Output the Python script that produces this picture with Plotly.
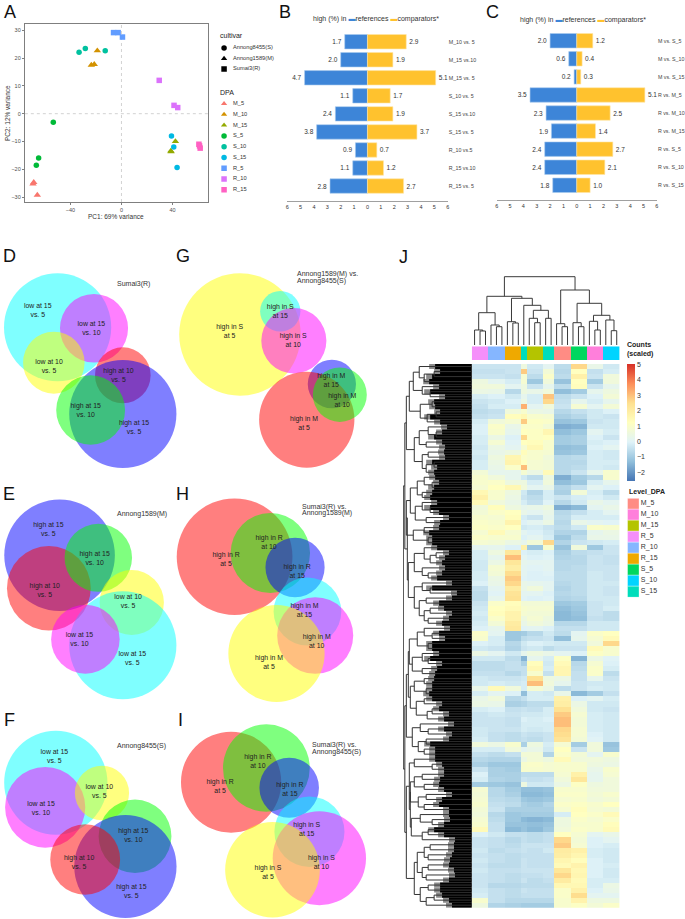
import plotly.graph_objects as go

W, H = 685, 919
FONT = "Liberation Sans"

# ---------- Panel A data ----------
dpa_levels = ["M_5", "M_10", "M_15", "S_5", "S_10", "S_15", "R_5", "R_10", "R_15"]
dpa_colors = ["#F8766D", "#D39200", "#93AA00", "#00BA38", "#00C19F", "#00B9E3", "#619CFF", "#DB72FB", "#FF61C3"]
dpa_symbols = ["triangle-up"] * 3 + ["circle"] * 3 + ["square"] * 3
pc1 = [
    [-68.7, -69.3, -65.9], [-18.9, -23.6, -21.3], [42.3, 38.7, 38.9],
    [-53.4, -64.9, -66.7], [-33.2, -28.3, -12.7], [39.2, 41.0, 43.6],
    [-6.2, -2.6, 0.8], [29.6, 41.2, 44.1], [60.7, 61.2, 61.7],
]
pc2 = [
    [-24.7, -25.3, -29.3], [22.7, 17.5, 17.8], [-10.0, -13.4, -13.7],
    [-3.1, -16.0, -18.6], [22.1, 23.5, 22.7], [-8.0, -12.0, -19.4],
    [29.2, 29.2, 27.6], [12.0, 3.0, 2.2], [-11.0, -11.6, -12.4],
]
cultivars = ["Annong8455(S)", "Annong1589(M)", "Sumai3(R)"]
cultivar_symbols = ["circle", "triangle-up", "square"]

# ---------- Panels B, C data ----------
b_labels = ["M_10 vs. 5", "M_15 vs.10", "M_15 vs. 5", "S_10 vs. 5", "S_15 vs.10", "S_15 vs. 5", "R_10 vs.5", "R_15 vs.10", "R_15 vs. 5"]
b_ref = [1.7, 2.0, 4.7, 1.1, 2.4, 3.8, 0.9, 1.1, 2.8]
b_cmp = [2.9, 1.9, 5.1, 1.7, 1.9, 3.7, 0.7, 1.2, 2.7]
c_labels = ["M vs. S_5", "M vs. S_10", "M vs. S_15", "R vs. M_5", "R vs. M_10", "R vs. M_15", "R vs. S_5", "R vs. S_10", "R vs. S_15"]
c_ref = [2.0, 0.6, 0.2, 3.5, 2.3, 1.9, 2.4, 2.4, 1.8]
c_cmp = [1.2, 0.4, 0.3, 5.1, 2.5, 1.4, 2.7, 2.1, 1.0]
bar_ticks = [-6, -5, -4, -3, -2, -1, 0, 1, 2, 3, 4, 5, 6]

# ---------- Venn data: circles (centre, radius), in drawing order ----------
venn_rgba = {"cyan": "rgba(0,255,255,.5)", "magenta": "rgba(255,0,255,.5)", "yellow": "rgba(255,255,0,.5)",
             "red": "rgba(255,0,0,.5)", "green": "rgba(0,255,0,.5)", "blue": "rgba(0,0,255,.5)"}

venn_D_col = ["cyan", "magenta", "yellow", "red", "blue", "green"]
venn_D_cx = [56.0, 92.7, 52.2, 121.7, 121.7, 89.3]
venn_D_cy = [327.3, 328.3, 362.7, 375.3, 414.0, 410.0]
venn_D_r = [54.0, 34.3, 31.0, 28.0, 54.0, 34.7]
venn_D_text = ["low at 15<br>vs. 5", "low at 15<br>vs. 10", "low at 10<br>vs. 5", "high at 10<br>vs. 5", "high at 15<br>vs. 10", "high at 15<br>vs. 5"]
venn_D_tx = [36.0, 90.0, 47.3, 117.3, 84.3, 133.0]
venn_D_ty = [311.0, 328.7, 367.0, 375.7, 410.3, 427.7]

venn_G_col = ["yellow", "cyan", "magenta", "blue", "red", "green"]
venn_G_cx = [239.7, 280.3, 294.0, 332.3, 307.0, 340.3]
venn_G_cy = [334.5, 311.3, 340.7, 384.0, 419.7, 394.7]
venn_G_r = [61.2, 20.3, 32.8, 24.3, 48.0, 27.2]
venn_G_text = ["high in S<br>at 5", "high in S<br>at 15", "high in S<br>at 10", "high in M<br>at 15", "high in M<br>at 5", "high in M<br>at 10"]
venn_G_tx = [229.3, 280.3, 293.3, 331.7, 304.3, 342.7]
venn_G_ty = [331.3, 311.3, 340.3, 381.0, 423.7, 400.3]

venn_E_col = ["blue", "red", "green", "yellow", "cyan", "magenta"]
venn_E_cx = [58.0, 47.2, 97.0, 130.7, 121.7, 84.0]
venn_E_cy = [555.2, 588.2, 557.8, 602.5, 645.3, 639.2]
venn_E_r = [55.7, 42.2, 34.0, 32.4, 54.0, 34.5]
venn_E_text = ["high at 15<br>vs. 5", "high at 10<br>vs. 5", "high at 15<br>vs. 10", "low at 10<br>vs. 5", "low at 15<br>vs. 5", "low at 15<br>vs. 10"]
venn_E_tx = [46.7, 43.0, 93.3, 127.0, 131.3, 78.0]
venn_E_ty = [529.7, 590.3, 558.7, 601.3, 658.7, 639.7]

venn_H_col = ["red", "green", "blue", "cyan", "magenta", "yellow"]
venn_H_cx = [234.3, 270.3, 295.2, 307.7, 315.5, 276.5]
venn_H_cy = [556.7, 553.0, 567.5, 611.5, 635.5, 653.5]
venn_H_r = [58.3, 40.0, 29.8, 34.1, 38.3, 48.5]
venn_H_text = ["high in R<br>at 5", "high in R<br>at 10", "high in R<br>at 15", "high in M<br>at 15", "high in M<br>at 10", "high in M<br>at 5"]
venn_H_tx = [225.7, 269.0, 297.3, 304.7, 317.0, 269.0]
venn_H_ty = [559.3, 543.0, 572.0, 611.0, 642.0, 663.0]

venn_F_col = ["cyan", "magenta", "yellow", "green", "blue", "red"]
venn_F_cx = [54.2, 43.5, 100.7, 134.0, 124.3, 83.8]
venn_F_cy = [782.7, 807.3, 793.0, 836.3, 866.5, 859.5]
venn_F_r = [52.0, 40.4, 27.3, 36.7, 51.5, 35.2]
venn_F_text = ["low at 15<br>vs. 5", "low at 15<br>vs. 10", "low at 10<br>vs. 5", "high at 15<br>vs. 10", "high at 15<br>vs. 5", "high at 10<br>vs. 5"]
venn_F_tx = [52.7, 39.3, 98.0, 132.3, 130.3, 77.7]
venn_F_ty = [756.7, 809.0, 792.0, 835.3, 891.3, 863.0]

venn_I_col = ["red", "green", "blue", "cyan", "magenta", "yellow"]
venn_I_cx = [230.8, 266.3, 289.3, 309.7, 319.7, 272.5]
venn_I_cy = [782.2, 768.0, 787.7, 831.7, 858.2, 869.8]
venn_I_r = [50.5, 43.7, 30.0, 35.3, 47.0, 47.7]
venn_I_text = ["high in R<br>at 5", "high in R<br>at 10", "high in R<br>at 15", "high in S<br>at 15", "high in S<br>at 10", "high in S<br>at 5"]
venn_I_tx = [219.7, 257.7, 290.0, 307.0, 321.7, 268.0]
venn_I_ty = [786.3, 762.0, 790.0, 829.3, 863.0, 873.0]

venn_panels = [
    (0, 180, 232, 470, venn_D_col, venn_D_cx, venn_D_cy, venn_D_r, venn_D_text, venn_D_tx, venn_D_ty),
    (174, 370, 232, 470, venn_G_col, venn_G_cx, venn_G_cy, venn_G_r, venn_G_text, venn_G_tx, venn_G_ty),
    (0, 180, 470, 702, venn_E_col, venn_E_cx, venn_E_cy, venn_E_r, venn_E_text, venn_E_tx, venn_E_ty),
    (174, 370, 470, 705, venn_H_col, venn_H_cx, venn_H_cy, venn_H_r, venn_H_text, venn_H_tx, venn_H_ty),
    (0, 180, 705, 919, venn_F_col, venn_F_cx, venn_F_cy, venn_F_r, venn_F_text, venn_F_tx, venn_F_ty),
    (174, 370, 705, 919, venn_I_col, venn_I_cx, venn_I_cy, venn_I_r, venn_I_text, venn_I_tx, venn_I_ty),
]

# ---------- Panel J data ----------
level_names = ["M_5", "M_10", "M_15", "R_5", "R_10", "R_15", "S_5", "S_10", "S_15"]
level_colors = ["#FF8C84", "#FF7FDB", "#B4C400", "#F58FFA", "#85B6FF", "#EFA900", "#00D75F", "#00D4FF", "#00DDBB"]
col_levels = ["R_5"] * 3 + ["R_10"] * 3 + ["R_15"] * 3 + ["S_15"] + ["M_15"] * 3 + ["S_15"] * 2 + ["M_5"] * 3 + ["S_5"] * 3 + ["M_10"] * 3 + ["S_10"] * 3
col_block = [0, 0, 0, 1, 1, 1, 2, 2, 2, 3, 4, 4, 4, 5, 5, 6, 6, 6, 7, 7, 7, 8, 8, 8, 9, 9, 9]

heat_top = [
    [-.4, -.4, -.4, .5, -.3, .1, -.6, 2.6, .3, -.3],
    [-.5, -.5, -.4, 2.8, -.4, .7, -.7, 1.2, -.5, -.2],
    [-.4, -.4, -.5, .8, -.6, 1, -.6, 1.8, -.4, .6],
    [.5, .1, -.2, .8, -1.1, .6, -1.2, 1.2, -1, .6],
    [.6, .6, .1, .5, -.4, .2, -.6, 1.3, -.4, .2],
    [.4, .3, -.7, .5, .3, .6, -1.3, -1, .2, .5],
    [-.2, -.1, -.3, .2, -.2, 2.9, -.6, -.4, -.1, .7],
    [-.4, -.3, -.1, .4, -.2, 2.6, -.5, .2, -.2, .2],
    [-.5, -.2, -.2, 3.2, .1, .6, -.4, .8, .1, .7],
    [-.6, -.5, .6, .9, .4, .3, -.7, -.5, -.3, -.1],
    [-.5, -.4, 1.3, 1.5, .9, .8, -.9, -.7, -.3, -.4],
    [-.2, .6, .8, 2.8, 1.1, 1, -1.2, -1.1, -.4, -.3],
    [-.1, 1, .3, 1, 1, .7, -1.6, -1.5, -.3, -.3],
    [-.1, .9, .2, 1.2, 1.1, 1.6, -1.3, -1.1, .1, -.2],
    [-.2, .4, -.1, 2.6, 1.1, 1.2, -1, -.9, -.1, -.4],
    [-.2, .8, 0, 1.2, 1.3, .9, -1, -.9, -.2, -.1],
    [-.3, .4, .1, .8, 1.5, .9, -1.3, -1.2, -.1, .1],
    [-.2, .3, .5, 1.3, .9, .8, -1.2, -1.1, -.2, -.3],
    [-.3, .5, 1.6, 1, .9, .6, -.7, -.6, -.2, -.3],
    [-.2, .4, 1.7, 1.2, .8, .7, -.7, -.7, -.2, -.2],
    [-.2, .3, 1, 3, .8, .7, -.7, -.6, -.2, -.3],
    [.7, .2, .2, .8, .4, 1.4, -.7, -.4, .2, .9],
    [.9, .6, .2, -.3, -.6, .5, -1.6, -1, -.7, .9],
    [.9, 1, .5, .5, -.2, .6, -1.3, -1.1, -.2, .2],
    [.8, 1.2, 1.5, .6, .1, .3, -.8, -.5, .1, -.1],
    [1.5, .9, .5, -.3, -.8, -.2, -.9, .7, -.2, -.6],
    [1.8, .9, .4, -.4, -.6, -.2, -.4, -.2, -.1, -.3],
    [1.4, .6, .3, -.2, -.5, 0, -.7, -.3, .3, .1],
    [.6, 1.3, .5, .2, .3, .5, -1.6, -1.4, .1, .3],
    [.7, 1, 1.2, .3, .1, .3, -.7, -.5, -.2, .1],
    [.9, .8, 1.3, -.2, -.4, .2, -.6, -.2, -.2, -.2],
    [1, .9, 1.7, -.1, .1, .4, -.7, .3, .1, 0],
    [1.1, 1, 1.2, -.3, -.2, -.4, -.6, -.3, 1, .9],
    [.8, 1.4, .8, .1, -.1, -.3, -.8, -.8, .2, .4],
    [1, .9, .9, -.1, .1, -.2, -1.1, -.6, .3, .3],
    [.8, .7, .4, .2, .7, 2.6, -.8, -.4, -.3, -.2],
]
heat_mid = [
    [.1, .2, -.1, 1.8, -1.1, .9, -1.2, .6, -1.1, -.4],
    [-.2, .5, 2.2, -.1, -.2, -.1, -.9, -.6, -.5, -.4],
    [-.2, .2, 3, .1, -.1, 0, -.8, -.7, -.4, -.5],
    [-.3, .4, 2.2, .2, .1, .1, -.7, -.7, -.4, -.5],
    [-.3, .8, 1.9, .1, 0, .1, -.7, -.6, -.4, -.4],
    [-.2, .7, 2.5, .1, -.1, 0, -.6, -.6, -.3, -.4],
    [-.2, .4, 2.8, 0, -.1, -.1, -.6, -.6, -.3, -.4],
    [-.1, .3, 2.6, .3, .2, .1, -.7, -.6, -.3, -.3],
    [-.5, .1, 2, .3, .6, .1, -.8, -.6, -.3, -.4],
    [-.6, 0, 2.3, .1, .1, -.1, -.7, -.6, -.3, -.4],
    [-.6, .2, 2.4, 0, -.1, 0, -.8, -.7, -.3, -.3],
    [-.4, 1, 1.3, .7, .7, .7, -1.1, -1, -.4, -.3],
    [-.3, 1.2, 1.4, .9, .8, .8, -1.3, -1.1, -.4, -.2],
    [-.2, 1.3, 1.7, .8, .7, .7, -1.4, -1.2, -.4, -.6],
    [-.3, 1, 1.7, .5, .8, .5, -1.4, -1.3, -.5, -.6],
    [-.2, .7, 2, .3, .6, .4, -.7, -.7, -.3, -.3],
    [-.1, .2, 2.1, 0, .1, -.1, -.5, -.5, -.3, -.3],
    [1, .1, -1.1, -1, -.7, -.3, -.6, .1, 1, 1.2],
    [.9, -.2, -1.1, -.6, -.5, -.4, -1.3, .2, .8, 1.4],
    [-.1, -.2, -.7, -.3, -.1, -.2, -.3, -.3, .6, 2.6],
    [-.3, -.4, -.8, -.4, -.3, -.6, -.4, -.4, 1.4, .9],
    [.4, .1, -.3, .2, .5, .3, .1, -.1, 1.1, .9],
    [-.3, -.3, -.6, -1.5, .2, -.2, 1.1, -1.5, .4, 0],
    [-.6, -.6, -.5, -.9, 1.3, -.3, 1.4, -.7, .8, -.1],
    [-.6, -.6, -.5, -.5, 1.5, -.2, 1.6, -.6, 1, -.2],
    [-.5, -.5, -.7, -.5, .9, -.5, 1.6, -.5, 1, -.6],
    [-.3, -.4, -.4, -.3, 2.4, .5, .4, -.5, .2, -.4],
    [-.3, -.2, -.3, -.2, 3, .6, .2, -.4, -.3, -.3],
    [.3, 1.4, .6, -.2, .8, .4, -.6, -.4, -.2, -.3],
    [-.2, .1, -.1, -1.3, -.2, -.3, .3, -1.4, -1, -.5],
    [.3, .6, -.7, -.5, -.2, -.2, 1.8, -.1, .1, -.2],
    [.4, .3, -.9, -.8, -.6, -.6, 1.9, .4, -.3, -.3],
    [-.2, -.1, -.5, -.4, -.5, -.2, 2.4, .6, -.3, -.4],
    [-.4, -.3, -.4, -.3, -.3, -.2, 2.8, .8, -.2, -.3],
    [-.4, -.4, -.5, -.1, -.2, -.1, 3, .7, -.2, -.3],
    [-.4, -.4, -.5, -.2, -.2, -.2, 3, .7, -.2, -.3],
    [-.3, -.4, -.4, -.2, -.3, -.2, 2.6, .8, -.2, -.3],
]
heat_bot = [
    [-.3, -.5, -.6, -.4, -.5, -.4, 2.5, .8, -.1, -.3],
    [-.2, -.5, -.6, -.5, -.6, -.4, 2.3, .7, 0, -.3],
    [.6, .4, .9, -.9, .5, -.2, .8, -1, .6, -1.2],
    [-.2, -.2, .6, .1, .3, -.3, 1.2, -.4, .6, -1.1],
    [-.5, -.6, -.5, .7, .7, -.8, 1, .7, .1, .9],
    [-.7, -.8, -.8, .4, .7, .5, 1.4, .6, .6, .5],
    [-.9, -1.1, -1.1, .9, 1, .8, .9, .9, .5, .4],
    [-.4, -.9, -1, .9, .9, .8, .9, .9, .3, .9],
    [-.1, -.9, -.9, -.6, -.6, -.6, .8, 1.8, .2, .8],
    [-.2, -.8, -.9, -.4, -.5, -.4, .6, 2.2, .2, .6],
    [-1, -1.1, -1.2, .5, -.3, -.3, .4, 1.1, .5, .6],
    [.8, -.7, -1, -1.3, -1.3, -1.2, .9, .9, .6, .6],
    [.7, -.7, -.9, -1.4, -1.4, -1.3, 1, 1, .7, .9],
    [.8, -.6, -.7, -1.1, -1.2, -1.1, .8, .9, .6, .7],
    [.9, -.5, -.6, -.9, -1, -.8, 1, 1.1, .9, 1.2],
    [.7, -.4, -.9, -.9, -.9, -.9, .8, 1.3, .8, .7],
    [.6, -.7, -1.1, -1, -1, -1, -.2, 1.2, 1, 1.4],
    [.8, -.6, -1.1, -1.4, -1.5, -1.4, .5, 1, .8, 1],
    [.9, -.5, -1.2, -1.2, -1.3, -1.2, .5, .9, .9, 1.3],
    [1.4, -.5, -1.4, -1.2, -1.4, -1.1, .6, 1, .9, 1.4],
    [-.1, -.3, -.5, -.5, -.6, -.5, 1.2, .8, .1, .3],
    [-.4, -.5, -.7, -.5, -.6, -.5, 2.6, .7, -.1, .1],
    [-.4, -.5, -.6, -.4, -.4, -.4, 2.8, .8, -.1, -.2],
    [-.3, -.6, -.5, -.4, -.5, -.3, 2, 1.8, -.2, -.3],
    [-.4, -.5, -.6, -.5, -.5, -.5, 1.9, 1.6, -.2, -.3],
    [-.3, -.5, -.6, -.4, -.5, -.5, 1.6, 1.3, -.1, -.3],
    [-.4, -.6, -.6, -.4, -.5, -.5, 1.4, 1.7, -.1, -.2],
    [-.3, -.5, -.5, -.4, -.4, -.4, 2.2, 1.5, -.1, -.3],
    [-.4, -.5, -.6, -.5, -.5, -.4, 2.6, 1.6, -.1, -.3],
    [-.4, -.5, -.6, -.4, -.6, -.5, 2, 1.4, -.2, -.2],
    [-.4, -.7, -.7, -.6, -.6, -.6, 1.5, 1.5, -.2, .4],
    [-.3, -.5, -.6, -.4, -.5, -.5, 1, 1.8, -.1, .3],
    [-.2, -.5, -.6, -.5, -.5, -.5, 1, 2.5, .1, .1],
    [.9, -.5, -.7, -.7, -.7, -.7, .9, 1.7, .5, .5],
    [.5, -.8, -.9, -1, -1, -1, .9, 1.1, .7, 1],
]

# column tree: (height, left, right); leaves are column indices
col_tree = (68.3,
            (48.7,
             (32.3, (15, 0, (14, 1, 2)), (20, 3, (18.3, 4, 5))),
             (46.7, (23.3, 6, (22, 7, 8)),
              (39.7, 9, (34.7, (26.7, 10, (22.3, 11, 12)), (26.7, 13, 14))))),
            (55,
             (21.3, 15, (18.3, 16, 17)),
             (41.7, (22.3, 18, (18.3, 19, 20)),
              (29.7, (23.7, 21, (15, 22, 23)), (25, 24, (14.3, 25, 26))))))

# row tree: leaves are row indices
row_C1 = (59, (53, 0, (48, (38, 1, 2), 3)), (50, 4, (42, 5, 6)))
row_C2 = (52, (40, 7, 8), (45, (36, 9, 10), 11))
row_C3 = (53, (44, 12, (36, 13, 14)), (46, 15, 16))
row_C4 = (50, (44, 17, 18), (46, (38, 19, 20), 21))
row_C5 = (55, (48, 22, (40, 23, 24)), (50, 25, 26))
row_C6 = (57, (50, 27, (42, 28, 29)), (46, 30, 31))
row_C7 = (59, (48, 32, 33), (44, 34, 35))
row_C8 = (58, (48, 36, (42, (36, 37, 38), 39)), (50, 40, (44, 41, 42)))
row_C9 = (58, (50, 43, (42, 44, 45)), (53, (46, 46, 47), (48, (42, 48, 49), (44, 50, 51))))
row_C10 = (55, (48, 52, (40, 53, 54)), (44, 55, 56))
row_C11 = (60, (50, 57, (44, 58, 59)), (50, 60, 61))
row_C12 = (58, (48, 62, 63), (46, 64, 65))
row_C13 = (56, (48, 66, 67), (45, (40, 68, 69), 70))
row_C14 = (60, (52, 71, (44, 72, 73)), (54, (46, 74, 75), (48, 76, 77)))
row_C15 = (58, 78, (40, 79, 80))
row_C16 = (62, (58, (50, 81, 82), (48, 83, 84)), (54, (46, 85, 86), (48, 87, 88)))
row_C17 = (61, (52, 89, (40, 90, 91)), (50, (44, 92, 93), 94))
row_C18 = (55, (48, (42, 95, 96), (44, 97, 98)), (50, (44, 99, 100), (46, 101, 102)))
row_C19 = (52, (44, 103, 104), (46, (38, 105, 106), 107))
row_tree = (69,
            (67.5,
             (66, (63, row_C1, row_C2), (58, row_C3, row_C4)),
             (65, (66, (62, row_C5, row_C6), row_C7), (64, row_C8, row_C9))),
            (67.5,
             (66, (64, (63, row_C10, row_C11), (62, row_C12, row_C13)), row_C14),
             (66, (63, row_C15, (62, row_C16, row_C17)), (58, row_C18, row_C19))))

# how far the densely drawn leaf branches reach from the heatmap, one per row
row_leaf_reach = [
    37, 32, 40, 43, 33, 42, 27, 38, 37, 32, 42, 32, 25, 30, 38, 30, 27, 28, 27, 40, 35, 38, 37, 33, 38, 40, 42, 35, 42, 33, 23, 32, 33, 43, 40, 40,
    35, 23, 27, 30, 27, 30, 35, 20, 40, 15, 20, 33, 28, 20, 23, 30, 22, 33, 27, 40, 40, 33, 42, 30, 35, 37, 38, 40, 40, 43, 40, 30, 33, 23, 28, 18, 28,
    20, 23, 42, 37, 37, 37, 30, 28, 28, 32, 33, 28, 20, 30, 33, 23, 23, 22, 28, 38, 28, 17, 18, 18, 20, 22, 23, 18, 17, 23, 32, 32, 30, 23, 20,
]
leaf_fan_extra = 6  # the thin grey fans beyond the solid black

cbar_ticks = [-2, -1, 0, 1, 2, 3, 4, 5]
heat_colorscale = ["#4575B4", "#91BFDB", "#E0F3F8", "#FFFFBF", "#FEE090", "#FC8D59", "#D73027"]
heat_zmin, heat_zmax = -2.57, 5

# ---------- helpers ----------
fig = go.Figure()
layout = {}
annots = []
shapes = []
_n = [0]


def axes(left, right, top, bottom, xrange, yrange, xkw=None, ykw=None):
    _n[0] += 1
    n = _n[0]
    base = dict(visible=False, fixedrange=True)
    xa = dict(base, domain=[left / W, right / W], range=xrange, anchor=f"y{n}")
    ya = dict(base, domain=[1 - bottom / H, 1 - top / H], range=yrange, anchor=f"x{n}")
    xa.update(xkw or {})
    ya.update(ykw or {})
    layout[f"xaxis{n}"] = xa
    layout[f"yaxis{n}"] = ya
    return f"x{n}", f"y{n}"


def note(px, py, text, size=7, anchor="left", color="#222222", **kw):
    annots.append(dict(x=px / W, y=1 - py / H, xref="paper", yref="paper", text=text, showarrow=False,
                       xanchor=anchor, yanchor="middle", borderpad=0, font=dict(size=size, color=color, family=FONT), **kw))


def tree_segments(node, pos_of_leaf):
    """Returns (position, height, segments) for a nested (height, a, b) tree."""
    if not isinstance(node, tuple):
        return pos_of_leaf(node), 0, []
    h, a, b = node
    pa, ha, sa = tree_segments(a, pos_of_leaf)
    pb, hb, sb = tree_segments(b, pos_of_leaf)
    seg = [(pa, ha, pa, h), (pa, h, pb, h), (pb, h, pb, hb)]
    return (pa + pb) / 2, h, sa + sb + seg


# ---------- Panel A ----------
xa, ya = axes(23, 208, 24, 202, [-75.7, 68.2], [-31.8, 32.3],
              dict(visible=True, showgrid=False, zeroline=False, showline=True, mirror=True, linecolor="#7F7F7F", linewidth=1,
                   ticks="outside", ticklen=2, tickcolor="#7F7F7F", tickvals=[-40, 0, 40], tickfont=dict(size=5.5, color="#4D4D4D", family=FONT)),
              dict(visible=True, showgrid=False, zeroline=False, showline=True, mirror=True, linecolor="#7F7F7F", linewidth=1,
                   ticks="outside", ticklen=2, tickcolor="#7F7F7F", tickvals=[-30, -20, -10, 0, 10, 20, 30], tickfont=dict(size=5.5, color="#4D4D4D", family=FONT)))
for ref in [dict(xref=xa, yref=ya, x0=0, x1=0, y0=-31.8, y1=32.3), dict(xref=xa, yref=ya, x0=-75.7, x1=68.2, y0=0, y1=0)]:
    shapes.append(dict(type="line", line=dict(color="#D2D2D2", width=1, dash="dot"), layer="below", **ref))
for name, col, sym, xs, ys in zip(dpa_levels, dpa_colors, dpa_symbols, pc1, pc2):
    fig.add_trace(go.Scatter(x=xs, y=ys, mode="markers", name=name, xaxis=xa, yaxis=ya, cliponaxis=False,
                             marker=dict(color=col, symbol=sym, size=6.5 if sym == "triangle-up" else 5.5)))
note(115, 216, "PC1: 69% variance", 6.5, "center", "#333333")
note(5, 113, "PC2: 12% variance", 6.5, "center", "#333333", textangle=-90)

# A legends, on their own categorical axes
note(218.7, 35.3, "cultivar", 7)
xl, yl = axes(218, 285, 42.75, 74.25, [218, 285], [2.5, -0.5])
layout[yl.replace("y", "yaxis")].update(type="category", categoryorder="array", categoryarray=cultivars)
fig.add_trace(go.Scatter(x=[223.7] * 3, y=cultivars, mode="markers", xaxis=xl, yaxis=yl,
                         marker=dict(color="black", symbol=cultivar_symbols, size=5.5)))
fig.add_trace(go.Scatter(x=[232.7] * 3, y=cultivars, mode="text", text=cultivars, textposition="middle right", xaxis=xl, yaxis=yl,
                         textfont=dict(size=5.7, color="#333333", family=FONT), cliponaxis=False))
note(218.7, 92, "DPA", 7)
xl, yl = axes(218, 285, 98.3, 195.1, [218, 285], [8.5, -0.5])
layout[yl.replace("y", "yaxis")].update(type="category", categoryorder="array", categoryarray=dpa_levels)
fig.add_trace(go.Scatter(x=[223.7] * 9, y=dpa_levels, mode="markers", xaxis=xl, yaxis=yl,
                         marker=dict(color=dpa_colors, symbol=dpa_symbols, size=5.5)))
fig.add_trace(go.Scatter(x=[232.7] * 9, y=dpa_levels, mode="text", text=dpa_levels, textposition="middle right", xaxis=xl, yaxis=yl,
                         textfont=dict(size=5.7, color="#333333", family=FONT), cliponaxis=False))


# ---------- Panels B, C ----------
def pyramid(left, right, top, bottom, labels, ref, cmp_):
    xb, yb = axes(left, right, top, bottom, [-6, 6], [8.83, -0.5],
                  dict(visible=True, showgrid=False, zeroline=False, showline=True, linecolor="#A0A0A0", linewidth=1, ticks="",
                       tickvals=bar_ticks, ticktext=[str(abs(t)) for t in bar_ticks], tickfont=dict(size=5.5, color="#333333", family=FONT)),
                  dict(visible=True, type="category", categoryorder="array", categoryarray=labels, side="right", showgrid=False, zeroline=False,
                       showline=False, ticks="", tickfont=dict(size=5.3, color="#444444", family=FONT)))
    fig.add_trace(go.Bar(y=labels, x=[-v for v in ref], orientation="h", xaxis=xb, yaxis=yb, width=0.8, cliponaxis=False,
                         marker=dict(color="#3D85D8", line=dict(color="#A9CBEF", width=0.6)),
                         text=[f"{v:.1f}" for v in ref], textposition="outside", textangle=0, constraintext="none",
                         textfont=dict(size=6.5, color="#333333", family=FONT)))
    fig.add_trace(go.Bar(y=labels, x=cmp_, orientation="h", xaxis=xb, yaxis=yb, width=0.8, cliponaxis=False,
                         marker=dict(color="#FFC22E", line=dict(color="#FFE6A8", width=0.6)),
                         text=[f"{v:.1f}" for v in cmp_], textposition="outside", textangle=0, constraintext="none",
                         textfont=dict(size=6.5, color="#333333", family=FONT)))


pyramid(287.3, 449, 32.7, 201, b_labels, b_ref, b_cmp)
pyramid(498.3, 659.7, 31.7, 200.3, c_labels, c_ref, c_cmp)
legend_text = 'high (%) in <span style="color:#3D85D8">▬</span>references <span style="color:#FFC22E">▬</span>comparators*'
note(377, 19.3, legend_text, 7, "center", "#333333")
note(585.3, 20, legend_text, 7, "center", "#333333")

# ---------- Venn panels ----------
for left, right, top, bottom, cols, cx, cy, rad, txt, tx, ty in venn_panels:
    xv, yv = axes(left, right, top, bottom, [left, right], [bottom, top])
    for c, x, y, r in zip(cols, cx, cy, rad):
        shapes.append(dict(type="circle", xref=xv, yref=yv, x0=x - r, x1=x + r, y0=y - r, y1=y + r,
                           fillcolor=venn_rgba[c], line=dict(width=0), layer="below"))
    fig.add_trace(go.Scatter(x=tx, y=ty, mode="text", text=txt, textposition="middle center", xaxis=xv, yaxis=yv, cliponaxis=False,
                             textfont=dict(size=6.9, color="#222222", family=FONT)))

for px, py, t in [(115, 284.3, "Sumai3(R)"), (115, 514, "Annong1589(M)"), (115, 745.7, "Annong8455(S)"),
                  (295.7, 274.3, "Annong1589(M) vs."), (295.7, 281, "Annong8455(S)"),
                  (301.3, 506.7, "Sumai3(R) vs."), (301.3, 513.3, "Annong1589(M)"),
                  (311.7, 745.3, "Sumai3(R) vs."), (311.7, 752, "Annong8455(S)")]:
    note(px, py, t, 7, "left", "#333333")

# ---------- Panel J ----------
HL, HR = 473.3, 622
heat_rows = heat_top + heat_mid + heat_bot
z = [[row[b] for b in col_block] for row in heat_rows]
n_rows = len(heat_rows)
xh, yh = axes(HL, HR, 364, 907.7, [0, 27], [n_rows, 0])
steps = len(heat_colorscale) - 1
fig.add_trace(go.Heatmap(z=z, x=[i + .5 for i in range(27)], y=[i + .5 for i in range(n_rows)], xaxis=xh, yaxis=yh,
                         zmin=heat_zmin, zmax=heat_zmax,
                         colorscale=[[i / steps, c] for i, c in enumerate(heat_colorscale)],
                         colorbar=dict(x=629.7 / W, xanchor="left", y=1 - 364.3 / H, yanchor="top", len=117 / H, lenmode="fraction",
                                       thickness=8, thicknessmode="pixels", xpad=0, ypad=0, outlinewidth=0, ticks="", tickvals=cbar_ticks,
                                       tickfont=dict(size=7, color="#333333", family=FONT))))
note(629, 344.7, "<b>Counts</b>", 7)
note(629, 354, "<b>(scaled)</b>", 7)

# annotation strip: a one-row heatmap over the level index
xs, ys = axes(HL, HR, 346.3, 360, [0, 27], [0, 1])
n_lev = len(level_names)
strip_scale = []
for i, c in enumerate(level_colors):
    strip_scale += [[i / n_lev, c], [(i + 1) / n_lev, c]]
fig.add_trace(go.Heatmap(z=[[level_names.index(l) + .5 for l in col_levels]], x=[i + .5 for i in range(27)], y=[.5], xaxis=xs, yaxis=ys,
                         zmin=0, zmax=n_lev, colorscale=strip_scale, showscale=False))

# column dendrogram
xd, yd = axes(HL, HR, 276, 345, [0, 27], [0, 69])
_, _, segs = tree_segments(col_tree, lambda leaf: leaf + .5)
dx, dy = [], []
for a, b, c, d in segs:
    dx += [a, c, None]
    dy += [b, d, None]
fig.add_trace(go.Scatter(x=dx, y=dy, mode="lines", xaxis=xd, yaxis=yd, line=dict(color="#3A3A3A", width=1), cliponaxis=False))

# row dendrogram
xr, yr = axes(404, HL, 364, 907.7, [69.3, 0], [n_rows, 0])
row_pos = [i + .5 for i in range(n_rows)]
fig.add_trace(go.Bar(x=[r + leaf_fan_extra for r in row_leaf_reach], y=row_pos, orientation="h", width=1, xaxis=xr, yaxis=yr,
                     marker=dict(color="#8A8A8A", line=dict(width=0))))
fig.add_trace(go.Bar(x=row_leaf_reach, y=row_pos, orientation="h", width=1, xaxis=xr, yaxis=yr,
                     marker=dict(color="black", line=dict(width=0))))
_, _, segs = tree_segments(row_tree, lambda leaf: leaf + .5)
dx, dy = [], []
for a, b, c, d in segs:
    dx += [b, d, None]
    dy += [a, c, None]
fig.add_trace(go.Scatter(x=dx, y=dy, mode="lines", xaxis=xr, yaxis=yr, line=dict(color="#333333", width=1), cliponaxis=False))

# Level_DPA legend, on its own categorical axes
note(631, 492, "<b>Level_DPA</b>", 7)
xl, yl = axes(630, 685, 498.2, 597.2, [630, 685], [8.5, -0.5])
layout[yl.replace("y", "yaxis")].update(type="category", categoryorder="array", categoryarray=level_names)
fig.add_trace(go.Bar(x=[11.7] * 9, base=[630] * 9, y=level_names, orientation="h", width=1, xaxis=xl, yaxis=yl,
                     marker=dict(color=level_colors, line=dict(color="rgba(255,255,255,.6)", width=0.5))))
fig.add_trace(go.Scatter(x=[643.5] * 9, y=level_names, mode="text", text=level_names, textposition="middle right", xaxis=xl, yaxis=yl,
                         textfont=dict(size=7, color="#333333", family=FONT), cliponaxis=False))

# ---------- Panel letters ----------
for px, py, t in [(1, 11.5, "A"), (278, 11.5, "B"), (487, 11.5, "C"), (0, 256, "D"), (174, 256, "G"),
                  (0, 494, "E"), (174, 494, "H"), (1, 720, "F"), (176, 720, "I"), (399, 257, "J")]:
    note(px, py, t, 18, "left", "#111111")

fig.update_layout(width=W, height=H, margin=dict(l=0, r=0, t=0, b=0), paper_bgcolor="white", plot_bgcolor="rgba(0,0,0,0)",
                  showlegend=False, barmode="overlay", annotations=annots, shapes=shapes,
                  font=dict(family=FONT), hovermode=False, **layout)
fig.write_html("out.html", config=dict(displayModeBar=False),
               post_script="document.body.style.margin='0';document.documentElement.style.overflow='hidden';")
